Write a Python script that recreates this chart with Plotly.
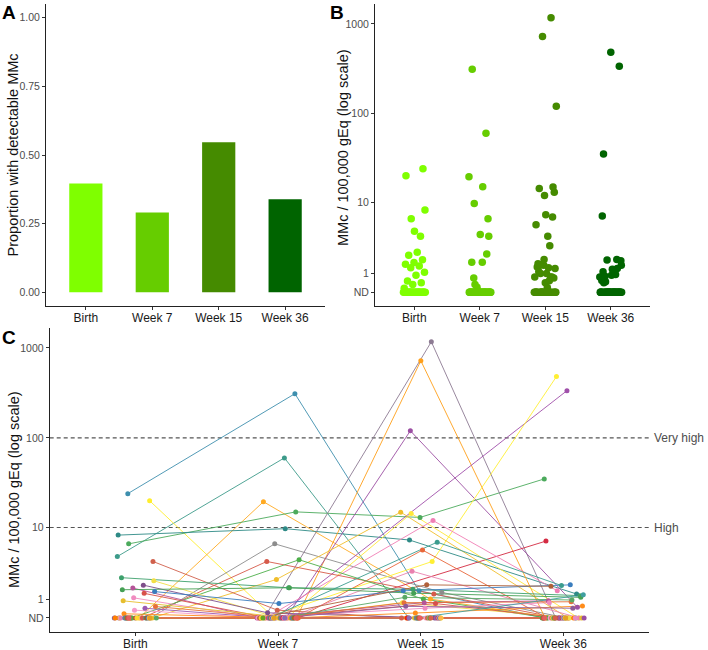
import numpy as np
import plotly.graph_objects as go

# ---------------- data ----------------
timepoints = ["Birth", "Week 7", "Week 15", "Week 36"]
prop_detectable = [0.396, 0.291, 0.546, 0.339]
prop_ticks = [0, 0.25, 0.5, 0.75, 1.0]

log_tick_values = [0, 1, 10, 100, 1000]
log_tick_text = ["ND", "1", "10", "100", "1000"]
threshold_values = [10, 100]
threshold_labels = ["High", "Very high"]

# per-subject MMc / 100,000 gEq (0 = ND, None = no sample)
birth = [24, 4.6, 20, 0, 6.5, 8.2, 0, None, 0, 0, None, 0, 0, 0, 0, 0, 0, 0, 4.0, 0,
         0, 2.44, 2.2, 1.88, 1.68, 1.57, 1.45, 1.34, 1.07, 0.9, 0.59, 0.5, 0.40, 0.21, 0, 0, 0, 0, 0,
         0, None, 0, 0, None, 0, 0, None, 0, None, 0, None, 0, None, 0, None, 0, None, 0]
week7 = [310, 60, 0, 19.5, 15, 9.7, 6.5, 0, 0, 0, 0, 0, 0, 0, 2.3, 0, 0, 0, 0.4, 4.0,
         4.2, 1.7, 0, 0.26, 0, 1.7, 0.75, 0, 0, 0, 0, 0, 0, 0, 0, 0, 0, 0, 0,
         0, 0, 0, None, 0, 0, 0, 0, 0, None, 0, 0, 0, 0, None, 0, 0, None, 0]
week15 = [1.5, 0, 0, 1.0, 13, 7.2, 1.4, 1170, 720, 120, None, 4.0, None, 14.4, 14.9, 12.0, 5.5, 3.0, 0, 1.3,
          1.0, 1.6, 0.8, 0, 0.8, 1.35, 1.5, 0.75, 0.5, 0, 0.8, 0, 0, 0.25, 1.1, 6.8, 1.9, 0, 0.6,
          0, 0, 0, 0, 0, None, 0, 0, 0, 0, 0, None, 0, 0, 0, 0, None, 0, 0]
week36 = [0, 0, 0, 0, 35, 1.3, 0, 0, 0, 0.55, 335, 480, 7.0, 0, 0, 1.5, 0, 0, 0, 0,
          0, 1.2, 0, 0, 0.9, 1.1, 1.9, 0, 0.8, 0, 0.85, 0, 0, 0.62, 0.95, 1.85, 1.8, 1.25, 0.5,
          0, 0, 0, 0, 0, 0, 0, None, 0, 0, 0, 0, 0, 0, 0, None, 0, 0, 0]

# ---------------- styles ----------------
tp_colors = ["#7FFF00", "#66CD00", "#458B00", "#006400"]
subject_colors = [
    "#3E8FAE", "#3D9B8A", "#FFEE2E", "#FFAA22", "#4CAA5C", "#2E8A86", "#8C8C8C", "#8D7B93",
    "#FF9F1A", "#9C4FA3", "#A050AA", "#FFEF33", "#D42A42", "#FFE83A", "#F0BE2C", "#F07FB5",
    "#E8673A", "#E981B0", "#D0604C", "#D65A4A", "#4DAF4A", "#3DA06C", "#F2DF46", "#7E4F8A",
    "#B55498", "#45A055", "#3A7DBE", "#D8504A", "#F08CC0", "#E6BE2E", "#E5703A", "#9B59B0",
    "#F59BC9", "#FF8C1A", "#58A865", "#3B9C8E", "#B0613A", "#3F9FA0", "#8D5A99",
    "#A65628", "#C4703F", "#984EA3", "#FF7F00", "#F781BF", "#FFD92F", "#4DAF4A", "#E41A1C",
    "#377EB8", "#999999", "#B15928", "#E78AC3", "#FFB74D", "#66A61E", "#CF4C55", "#8E6BB0",
    "#E5A023", "#D95F4A", "#E4605E"]

FONT = "Liberation Sans, Arial, sans-serif"
W, H = 708, 650


def px(x):
    return x / W


def py(y):
    return 1 - y / H


def T(v):
    # pseudo-log (asinh) transform, base 10
    return np.arcsinh(np.asarray(v, dtype=float) / 2.0) / np.log(10)


def jitter(i, k, width, a, b):
    f = ((i + 1) * a + (k + 1) * b) % 1.0
    return width * (2 * f - 1)


series = [birth, week7, week15, week36]
n_sub = len(birth)
all_vals = [v for s in series for v in s if v is not None]
tmax = float(T(max(all_vals)))
log_range = [-0.05 * tmax, 1.05 * tmax]

fig = go.Figure()

# ---------------- panel A ----------------
fig.add_trace(go.Bar(x=list(range(4)), y=prop_detectable, width=0.5,
                     marker=dict(color=tp_colors, line=dict(width=0)),
                     xaxis="x", yaxis="y", showlegend=False, hoverinfo="skip"))

# ---------------- panel B ----------------
for k, s in enumerate(series):
    vals = [v for v in s if v is not None]
    xs = [k + jitter(j, k, 0.17, 0.6180339887, 0.2718281828) for j in range(len(vals))]
    fig.add_trace(go.Scatter(x=xs, y=T(vals), mode="markers",
                             marker=dict(color=tp_colors[k], size=7.5, line=dict(width=0)),
                             xaxis="x2", yaxis="y2", showlegend=False, hoverinfo="skip"))

# ---------------- panel C ----------------
pts_x, pts_y, pts_c = [], [], []
for i in range(n_sub):
    xs, ys = [], []
    for k in range(4):
        v = series[k][i]
        if v is None:
            continue
        xs.append(k + jitter(i, k, 0.15, 0.7548776662, 0.5698402910))
        ys.append(float(T(v)))
    fig.add_trace(go.Scatter(x=xs, y=ys, mode="lines",
                             line=dict(color=subject_colors[i], width=0.9),
                             xaxis="x3", yaxis="y3", showlegend=False, hoverinfo="skip"))
    pts_x += xs
    pts_y += ys
    pts_c += [subject_colors[i]] * len(xs)
fig.add_trace(go.Scatter(x=pts_x, y=pts_y, mode="markers",
                         marker=dict(color=pts_c, size=5, line=dict(width=0)),
                         xaxis="x3", yaxis="y3", showlegend=False, hoverinfo="skip"))

# ---------------- axes ----------------
common = dict(showline=True, linecolor="#222222", linewidth=1, ticks="outside",
              tickcolor="#333333", ticklen=3, tickwidth=1, showgrid=False,
              zeroline=False, fixedrange=True)
xcat = dict(tickvals=[0, 1, 2, 3], ticktext=timepoints, range=[-0.6, 3.6],
            ticklabelstandoff=-2,
            tickfont=dict(size=12, color="#1a1a1a", family=FONT))
ytick_font = dict(size=10.5, color="#4D4D4D", family=FONT)

dom_top = [py(306), py(4)]
dom_c = [py(631.7), py(328)]

fig.update_layout(
    width=W, height=H, autosize=False,
    margin=dict(l=0, r=0, t=0, b=0),
    paper_bgcolor="white", plot_bgcolor="white",
    font=dict(family=FONT),
    xaxis=dict(domain=[px(46), px(325)], anchor="y", **common, **xcat),
    yaxis=dict(domain=dom_top, anchor="x", range=[-0.05, 1.05], tickvals=prop_ticks,
               ticktext=["%.2f" % t for t in prop_ticks], tickfont=ytick_font, **common),
    xaxis2=dict(domain=[px(375), px(650)], anchor="y2", **common, **xcat),
    yaxis2=dict(domain=dom_top, anchor="x2", range=log_range,
                tickvals=list(T(log_tick_values)), ticktext=log_tick_text,
                tickfont=ytick_font, **common),
    xaxis3=dict(domain=[px(49.7), px(649)], anchor="y3", **common, **xcat),
    yaxis3=dict(domain=dom_c, anchor="x3", range=log_range,
                tickvals=list(T(log_tick_values)), ticktext=log_tick_text,
                tickfont=ytick_font, **common),
)

# threshold lines
shapes = []
annos = []
for v, lab in zip(threshold_values, threshold_labels):
    tv = float(T(v))
    shapes.append(dict(type="line", xref="x3 domain", yref="y3", x0=0, x1=1.0015, y0=tv, y1=tv,
                       line=dict(color="#555555", width=1.1, dash="4px,3px"), layer="below"))
    annos.append(dict(text=lab, xref="paper", yref="y3", x=px(652), y=tv, xanchor="left",
                      yanchor="middle", showarrow=False,
                      font=dict(size=12, color="#4D4D4D", family=FONT)))

title_font = dict(size=14.5, color="#111111", family=FONT)
annos += [
    dict(text="Proportion with detectable MMc", xref="paper", yref="paper", x=px(12.5), y=py(155),
         textangle=-90, showarrow=False, xanchor="center", yanchor="middle", font=title_font),
    dict(text="MMc / 100,000 gEq (log scale)", xref="paper", yref="paper", x=px(343), y=py(148),
         textangle=-90, showarrow=False, xanchor="center", yanchor="middle", font=title_font),
    dict(text="MMc / 100,000 gEq (log scale)", xref="paper", yref="paper", x=px(14), y=py(490),
         textangle=-90, showarrow=False, xanchor="center", yanchor="middle", font=title_font),
]
letter_font = dict(size=19, color="black", family=FONT)
for lab, x, y in [("A", 0, 0), ("B", 328, 0), ("C", 0, 325)]:
    annos.append(dict(text="<b>%s</b>" % lab, xref="paper", yref="paper", x=px(x), y=py(y),
                      xanchor="left", yanchor="top", showarrow=False, font=letter_font))

fig.update_layout(shapes=shapes, annotations=annos)

fig.write_html("out.html",
               config={"displayModeBar": False},
               post_script="document.body.style.margin='0';document.body.style.padding='0';")
